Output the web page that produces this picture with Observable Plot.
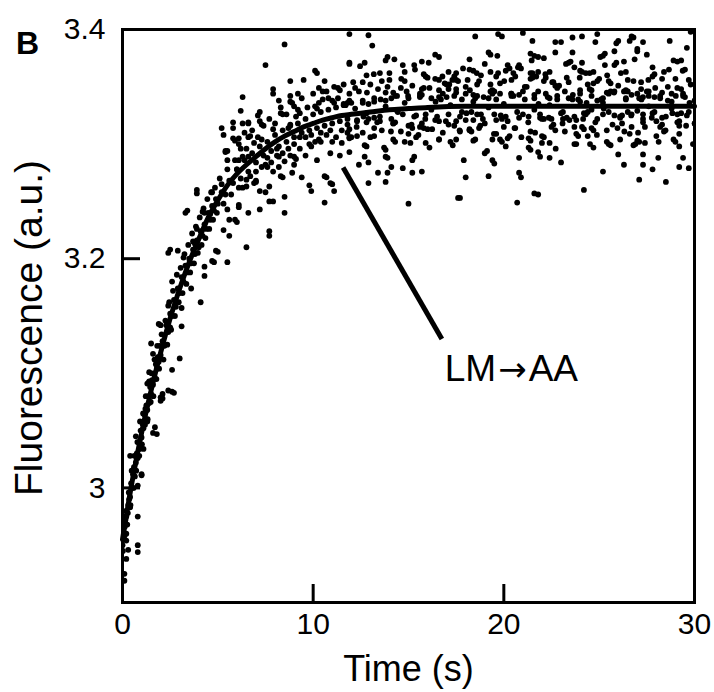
<!DOCTYPE html>
<html>
<head>
<meta charset="utf-8">
<script src="https://cdn.jsdelivr.net/npm/d3@7"></script>
<script src="https://cdn.jsdelivr.net/npm/@observablehq/plot@0.6"></script>
<style>
  html, body { margin: 0; padding: 0; background: white; }
</style>
</head>
<body>
<div id="chart"></div>
<script>
// Tick values and labels
const xTicks = [0, 10, 20, 30];
const yTicks = [3, 3.2, 3.4];
const yTickLabels = ["3", "3.2", "3.4"];

// Fitted curve: time (s) and fluorescence (a.u.)
const fitTime  = [0, 0.5, 1, 1.5, 2, 2.5, 3, 3.5, 4, 4.5, 5, 5.5, 6, 6.5, 7, 7.5, 8, 8.5, 9, 9.5, 10, 10.5, 11, 11.5, 12, 13, 14, 15, 16, 18, 20, 25, 30];
const fitValue = [2.955, 3.005, 3.048, 3.085, 3.118, 3.148, 3.174, 3.197, 3.217, 3.236, 3.251, 3.264, 3.274, 3.282, 3.289, 3.296, 3.302, 3.307, 3.311, 3.315, 3.318, 3.321, 3.323, 3.325, 3.326, 3.328, 3.330, 3.331, 3.332, 3.333, 3.333, 3.333, 3.333];

const pointsEarly = [
  [0.1,2.925],[0.1,2.919],[0.2,2.938],[0.3,2.946],[0.8,2.944],[0.8,2.950],[0.2,2.960],[0.2,2.954],[0.4,2.983],[0.8,2.975],
  [0.8,3.002],[1.0,3.011],[0.9,3.034],[0.4,3.028],[0.7,3.045],[1.8,3.047],[1.7,3.053],[1.3,3.058],[1.2,3.069],[2.0,3.076],
  [2.1,3.078],[2.6,3.084],[2.7,3.083],[2.1,3.082],[1.3,3.091],[1.4,3.093],[1.4,3.101],[2.6,3.103],[3.0,3.113],[1.6,3.117],
  [1.5,3.126],[1.9,3.143],[2.0,3.142],[2.5,3.140],[3.1,3.141],[2.4,3.159],[3.1,3.157],[4.1,3.162],[3.6,3.174],[2.6,3.180],
  [4.3,3.185],[4.3,3.193],[5.5,3.197],[4.7,3.198],[4.8,3.197],[3.2,3.201],[2.4,3.205],[2.5,3.208],[2.9,3.207],[4.9,3.207],
  [5.0,3.206],[3.7,3.215],[3.8,3.213],[5.6,3.220],[3.9,3.226],[5.9,3.234],[6.0,3.232],[4.6,3.239],[4.2,3.241],[4.3,3.240],
  [3.3,3.240],[3.4,3.242],[4.7,3.258],[3.9,3.260],[3.9,3.257],[5.2,3.265],[6.0,3.278],[6.1,3.286],[5.4,3.294],[5.5,3.294],
  [6.2,3.296],[6.1,3.305],[5.3,3.308],[5.8,3.314],[6.3,3.318],[2.4,3.085],[2.0,3.079],[1.6,3.048],[1.1,3.034],[1.0,3.012]
];
const pointsEarlyBand = [
  [0.02,2.945],[0.12,2.966],[0.18,2.980],[0.28,2.978],[0.33,2.996],[0.42,2.985],[0.48,3.015],[0.58,3.000],[0.62,3.028],[0.72,3.015],
  [0.78,3.040],[0.88,3.028],[0.92,3.058],[1.02,3.038],[1.08,3.065],[1.18,3.055],[1.22,3.080],[1.32,3.060],[1.38,3.092],[1.48,3.075],
  [1.52,3.100],[1.62,3.080],[1.68,3.112],[1.78,3.095],[1.82,3.124],[1.92,3.104],[2.05,3.134],[2.15,3.112],[2.25,3.146],[2.35,3.125],
  [2.45,3.162],[2.55,3.138],[2.65,3.172],[2.75,3.150],[2.85,3.186],[2.95,3.162],[3.05,3.192],[3.15,3.170],[3.25,3.204],[3.35,3.178],
  [3.45,3.212],[3.55,3.188],[3.65,3.222],[3.75,3.196],[3.85,3.228],[3.95,3.205],[4.05,3.236],[4.15,3.212],[4.25,3.244],[4.35,3.218],
  [4.45,3.252],[4.55,3.226],[4.65,3.258],[4.75,3.234],[4.85,3.262],[4.95,3.240],[5.1,3.270],[5.3,3.248],[5.5,3.278],[5.7,3.256],
  [5.9,3.286],[6.1,3.262]
];
const pointsRise = [
  [8.5,3.387],[7.5,3.369],[10.1,3.364],[10.2,3.362],[11.9,3.371],[7.9,3.348],[7.9,3.344],[8.8,3.355],[9.5,3.356],[10.6,3.355],
  [10.3,3.349],[10.7,3.346],[8.8,3.342],[8.8,3.337],[11.4,3.347],[11.3,3.349],[6.3,3.341],[7.2,3.328],[7.1,3.325],[6.2,3.329],
  [8.3,3.327],[8.4,3.326],[9.2,3.330],[9.0,3.333],[9.3,3.327],[10.2,3.331],[10.1,3.333],[10.5,3.339],[11.1,3.336],[11.0,3.338],
  [11.7,3.334],[11.6,3.335],[5.8,3.319],[5.2,3.314],[6.6,3.319],[7.3,3.317],[5.8,3.305],[5.9,3.303],[6.4,3.310],[6.6,3.306],
  [6.7,3.307],[6.9,3.301],[7.3,3.304],[7.9,3.313],[8.7,3.314],[8.8,3.317],[9.3,3.306],[9.8,3.300],[9.9,3.298],[10.3,3.304],
  [10.4,3.302],[11.0,3.302],[11.5,3.301],[11.9,3.306],[5.4,3.293],[5.5,3.286],[6.3,3.289],[6.6,3.289],[7.5,3.282],[7.6,3.280],
  [8.1,3.290],[8.2,3.289],[8.5,3.285],[9.0,3.289],[9.1,3.287],[9.0,3.282],[8.2,3.280],[8.3,3.272],[8.4,3.271],[8.9,3.275],
  [9.4,3.271],[10.6,3.272],[10.7,3.271],[9.8,3.264],[9.9,3.259],[10.9,3.266],[11.0,3.265],[11.1,3.259],[10.6,3.249],[6.5,3.269],
  [6.5,3.263],[6.9,3.266],[7.0,3.267],[7.2,3.259],[7.5,3.258],[7.7,3.263],[8.5,3.254],[8.5,3.240],[7.7,3.250],[7.9,3.250],
  [7.2,3.243],[6.6,3.240],[6.1,3.245],[6.1,3.247],[5.5,3.243],[5.6,3.234],[5.3,3.225],[7.7,3.224],[7.7,3.220],[6.5,3.210]
];
const pointsRiseCloud = [
  [6.1,3.300],[6.3,3.262],[6.5,3.296],[6.7,3.272],[6.8,3.312],[7.0,3.276],[7.1,3.306],[7.3,3.280],[7.4,3.316],[7.6,3.288],
  [7.7,3.322],[7.8,3.284],[8.0,3.318],[8.1,3.296],[8.3,3.332],[8.4,3.292],[8.6,3.326],[8.7,3.296],[8.9,3.336],[9.0,3.300],
  [9.1,3.324],[9.3,3.296],[9.4,3.340],[9.6,3.306],[9.7,3.332],[9.9,3.308],[10.0,3.344],[10.1,3.302],[10.3,3.336],[10.4,3.310],
  [10.5,3.346],[10.7,3.308],[10.8,3.340],[10.9,3.312],[11.1,3.350],[11.2,3.306],[11.3,3.340],[11.5,3.312],[11.6,3.352],[11.8,3.310],
  [11.9,3.344],[9.2,3.344],[8.2,3.338],[7.2,3.320],[6.6,3.318],[10.9,3.292],[9.6,3.290],[8.8,3.290],[7.9,3.276],[7.0,3.268],
  [11.4,3.290],[10.2,3.286]
];
const pointsMid = [
  [11.9,3.396],[12.9,3.395],[13.1,3.386],[11.9,3.370],[12.7,3.371],[12.8,3.360],[12.2,3.349],[12.6,3.354],[13.5,3.362],[13.8,3.373],
  [13.9,3.376],[13.6,3.355],[14.0,3.362],[13.8,3.345],[14.2,3.345],[14.1,3.340],[14.7,3.369],[14.8,3.363],[15.3,3.369],[15.7,3.372],
  [14.8,3.355],[14.9,3.346],[14.3,3.342],[15.8,3.361],[15.9,3.359],[16.4,3.357],[16.6,3.356],[16.4,3.378],[16.6,3.376],[15.8,3.349],
  [16.1,3.349],[16.9,3.353],[17.0,3.352],[17.1,3.363],[17.4,3.359],[17.3,3.356],[17.1,3.348],[17.5,3.348],[16.6,3.341],[16.7,3.339],
  [15.6,3.341],[15.7,3.343],[11.8,3.336],[11.9,3.338],[12.6,3.336],[12.9,3.335],[13.2,3.337],
  [11.8,3.317],[11.9,3.313],[12.3,3.321],[12.8,3.319],[13.2,3.314],[13.5,3.320],[14.2,3.318],[14.3,3.319],[15.0,3.316],[15.2,3.314],
  [15.6,3.315],[15.7,3.318],[16.0,3.313],[16.6,3.320],[17.1,3.317],[17.5,3.320],[11.9,3.305],[12.0,3.306],[12.3,3.307],[12.7,3.299],
  [12.8,3.298],[13.2,3.307],[14.2,3.304],[14.3,3.302],[14.6,3.311],[15.1,3.301],[15.4,3.306],[15.9,3.301],[16.1,3.297],[16.6,3.304],
  [17.2,3.302],[17.5,3.304],[13.8,3.295],[11.9,3.293],[15.3,3.289],[15.2,3.286],[13.8,3.289],[13.9,3.288],[12.7,3.289],[12.4,3.282],
  [12.9,3.284],[14.1,3.280],[14.7,3.279],[15.2,3.275],[15.7,3.276],[13.4,3.275],[13.9,3.275],[13.8,3.267],[12.9,3.266],[15.0,3.248],
  [17.6,3.253]
];
const pointsLate = [
  [18.5,3.394],[19.7,3.396],[19.9,3.394],[21.0,3.397],[21.5,3.390],[22.7,3.389],[23.0,3.389],[23.6,3.393],[19.2,3.380],[19.3,3.378],
  [18.2,3.374],[21.4,3.379],[21.6,3.377],[21.8,3.376],[22.1,3.375],[22.7,3.380],[23.6,3.380],[19.0,3.370],[18.2,3.365],[18.4,3.364],
  [17.5,3.362],[19.3,3.363],[20.2,3.369],[20.3,3.366],[20.1,3.364],[20.8,3.369],[20.9,3.366],[19.7,3.362],[20.5,3.362],[20.6,3.359],
  [21.4,3.362],[21.5,3.362],[21.8,3.363],[22.4,3.363],[23.4,3.371],[23.5,3.372],[23.7,3.367],[18.1,3.356],[18.7,3.355],[18.6,3.352],
  [19.6,3.359],[21.4,3.357],[21.5,3.358],[21.7,3.359],[22.1,3.355],[22.6,3.354],[22.7,3.351],[23.3,3.358],[17.5,3.345],[18.4,3.343],
  [18.5,3.340],[19.3,3.346],[19.4,3.344],[19.5,3.346],[20.4,3.344],[20.5,3.342],[21.6,3.343],[22.3,3.341],[22.4,3.340],[22.8,3.339],
  [23.2,3.346],[17.8,3.339],[19.6,3.339],[21.1,3.339],
  [18.0,3.321],[18.4,3.321],[18.8,3.326],[19.6,3.321],[19.9,3.322],[20.0,3.315],[20.8,3.323],[21.9,3.323],[22.1,3.322],[22.5,3.315],
  [22.7,3.312],[23.1,3.322],[23.3,3.323],[23.7,3.315],[18.2,3.313],[18.3,3.311],[17.7,3.311],[18.7,3.314],[18.5,3.304],[19.4,3.304],
  [19.8,3.304],[19.9,3.302],[20.3,3.307],[21.3,3.305],[21.4,3.303],[22.0,3.307],[22.1,3.306],[22.4,3.301],[20.1,3.298],[19.0,3.292],
  [19.4,3.286],[19.5,3.283],[20.8,3.288],[21.3,3.297],[21.4,3.295],[21.8,3.293],[21.9,3.289],[22.4,3.288],[17.9,3.286],[23.0,3.284],
  [23.7,3.300],[20.8,3.275],[20.9,3.271],[18.0,3.271],[19.2,3.272],[21.6,3.257],[21.8,3.256],[20.7,3.249],[17.7,3.253]
];
const pointsEnd = [
  [24.1,3.394],[24.9,3.396],[24.8,3.389],[26.0,3.390],[25.9,3.388],[26.7,3.394],[26.8,3.393],[26.6,3.390],[27.0,3.383],[27.0,3.381],
  [27.3,3.389],[27.5,3.378],[28.7,3.390],[29.6,3.384],[29.8,3.398],[25.2,3.377],[25.3,3.379],[25.8,3.381],[26.3,3.372],[24.1,3.371],
  [24.0,3.364],[24.1,3.363],[24.3,3.362],[25.3,3.369],[25.8,3.369],[25.9,3.371],[26.4,3.363],[27.8,3.367],[28.9,3.373],[29.1,3.372],
  [29.3,3.373],[29.5,3.365],[29.7,3.356],[28.4,3.363],[27.9,3.361],[24.5,3.362],[24.7,3.363],[24.9,3.355],[25.5,3.355],[25.6,3.353],
  [26.5,3.356],[27.2,3.354],[27.5,3.346],[27.6,3.346],[29.1,3.349],[29.3,3.348],[28.3,3.345],[24.5,3.348],[24.6,3.347],[25.4,3.345],
  [25.5,3.344],[26.3,3.346],[26.4,3.347],[26.7,3.343],[23.9,3.339],[24.0,3.337],[24.9,3.338],[25.1,3.339],[27.1,3.340],[27.3,3.341],
  [27.9,3.341],[28.6,3.338],[28.8,3.337],[29.5,3.341],
  [24.2,3.327],[24.4,3.328],[25.2,3.326],[26.1,3.323],[26.2,3.325],[26.5,3.328],[27.3,3.326],[27.8,3.327],[28.3,3.323],[29.3,3.327],
  [24.1,3.315],[24.6,3.314],[24.7,3.312],[25.7,3.317],[26.7,3.315],[27.3,3.319],[28.2,3.315],[28.3,3.317],[29.1,3.319],[29.2,3.320],
  [23.9,3.307],[24.4,3.307],[25.4,3.302],[25.5,3.300],[26.1,3.304],[27.0,3.303],[27.1,3.302],[28.0,3.307],[28.9,3.304],[29.0,3.302],
  [26.8,3.299],[26.9,3.300],[23.8,3.300],[24.7,3.297],[26.0,3.291],[27.3,3.291],[28.1,3.288],[29.2,3.298],[29.4,3.288],[26.3,3.282],
  [27.3,3.282],[27.8,3.278],[25.2,3.276],[27.1,3.269],[28.5,3.267],[29.2,3.280],[29.7,3.279],[24.2,3.260]
];
const pointsPlateauA = [
  [12.1,3.354],[12.28,3.315],[12.46,3.368],[12.64,3.324],[12.82,3.345],[13.0,3.306],[13.18,3.361],[13.36,3.319],[13.54,3.339],[13.72,3.297],
  [13.9,3.350],[14.08,3.311],[14.26,3.374],[14.44,3.328],[14.62,3.357],[14.8,3.302],[14.98,3.342],[15.16,3.317],[15.34,3.365],[15.52,3.308],
  [15.7,3.348],[15.88,3.322],[16.06,3.371],[16.24,3.313],[16.42,3.337],[16.6,3.304],[16.78,3.359],[16.96,3.320],[17.14,3.352],[17.32,3.299],
  [17.5,3.356],[17.68,3.312],[17.86,3.366],[18.04,3.327],[18.22,3.347],[18.4,3.303],[18.58,3.362],[18.76,3.316],[18.94,3.341],[19.12,3.294],
  [19.3,3.352],[19.48,3.309],[19.66,3.377],[19.84,3.325],[20.02,3.355],[20.2,3.305],[20.38,3.344],[20.56,3.314],[20.74,3.367],[20.92,3.306],
  [21.1,3.350],[21.28,3.319],[21.46,3.373],[21.64,3.310],[21.82,3.335],[22.0,3.301],[22.18,3.361],[22.36,3.323],[22.54,3.354],[22.72,3.296],
  [22.9,3.351],[23.08,3.318],[23.26,3.370],[23.44,3.321],[23.62,3.343],[23.8,3.309],[23.98,3.358],[24.16,3.322],[24.34,3.336],[24.52,3.300],
  [24.7,3.353],[24.88,3.308],[25.06,3.376],[25.24,3.331],[25.42,3.360],[25.6,3.299],[25.78,3.345],[25.96,3.314],[26.14,3.362],[26.32,3.311],
  [26.5,3.346],[26.68,3.325],[26.86,3.374],[27.04,3.310],[27.22,3.339],[27.4,3.301],[27.58,3.356],[27.76,3.323],[27.94,3.349],[28.12,3.302],
  [28.3,3.357],[28.48,3.312],[28.66,3.365],[28.84,3.327],[29.02,3.342],[29.2,3.309],[29.38,3.364],[29.56,3.316],[29.74,3.336],[29.92,3.300]
];
const pointsPlateauB = [
  [12.2,3.331],[12.4,3.346],[12.6,3.310],[12.8,3.327],[13.0,3.352],[13.2,3.323],[13.4,3.348],[13.6,3.312],[13.8,3.333],[14.0,3.356],
  [14.2,3.318],[14.4,3.329],[14.6,3.349],[14.8,3.336],[15.0,3.309],[15.2,3.351],[15.4,3.325],[15.6,3.344],[15.8,3.314],[16.0,3.358],
  [16.2,3.330],[16.4,3.321],[16.6,3.347],[16.8,3.310],[17.0,3.341],[17.2,3.334],[17.4,3.316],[17.6,3.355],[17.8,3.328],[18.0,3.350],
  [18.2,3.312],[18.4,3.337],[18.6,3.326],[18.8,3.360],[19.0,3.318],[19.2,3.332],[19.4,3.347],[19.6,3.309],[19.8,3.353],[20.0,3.335],
  [20.2,3.320],[20.4,3.356],[20.6,3.314],[20.8,3.343],[21.0,3.326],[21.2,3.350],[21.4,3.311],[21.6,3.330],[21.8,3.346],[22.0,3.322],
  [22.2,3.358],[22.4,3.334],[22.6,3.317],[22.8,3.349],[23.0,3.327],[23.2,3.311],[23.4,3.354],[23.6,3.339],[23.8,3.321],[24.0,3.347],
  [24.2,3.313],[24.4,3.352],[24.6,3.330],[24.8,3.319],[25.0,3.357],[25.2,3.336],[25.4,3.312],[25.6,3.346],[25.8,3.325],[26.0,3.351],
  [26.2,3.318],[26.4,3.339],[26.6,3.309],[26.8,3.355],[27.0,3.329],[27.2,3.348],[27.4,3.315],[27.6,3.333],[27.8,3.359],[28.0,3.320],
  [28.2,3.342],[28.4,3.311],[28.6,3.350],[28.8,3.331],[29.0,3.357],[29.2,3.316],[29.4,3.344],[29.6,3.325],[29.8,3.352],[30.0,3.318]
];
// Dense band of points lying on the fitted curve
const pointsBand = [
  [0.00,2.950],[0.05,2.962],[0.10,2.958],[0.15,2.972],[0.20,2.975],[0.25,2.968],[0.30,2.985],[0.35,2.990],[0.40,2.992],[0.45,3.004],
  [0.50,3.000],[0.55,3.012],[0.60,3.018],[0.65,3.010],[0.70,3.022],[0.75,3.030],[0.80,3.026],[0.85,3.040],[0.90,3.038],[0.95,3.050],
  [1.00,3.044],[1.05,3.056],[1.10,3.052],[1.15,3.064],[1.20,3.060],[1.25,3.072],[1.30,3.068],[1.35,3.080],[1.40,3.074],[1.45,3.088],
  [1.50,3.082],[1.55,3.094],[1.60,3.090],[1.65,3.100],[1.70,3.096],[1.75,3.108],[1.80,3.104],[1.85,3.114],[1.90,3.110],[1.95,3.124],
  [2.00,3.116],[2.10,3.128],[2.20,3.124],[2.30,3.142],[2.40,3.136],[2.50,3.152],[2.60,3.150],[2.70,3.164],[2.80,3.158],[2.90,3.174],
  [3.00,3.170],[3.10,3.184],[3.20,3.180],[3.30,3.194],[3.40,3.188],[3.50,3.200],[3.60,3.196],[3.70,3.208],[3.80,3.204],[3.90,3.216],
  [4.00,3.210],[4.10,3.224],[4.20,3.220],[4.30,3.230],[4.40,3.226],[4.50,3.240],[4.60,3.234],[4.70,3.246],[4.80,3.242],[4.90,3.252],
  [5.00,3.248],[5.20,3.258],[5.40,3.256],[5.60,3.268],[5.80,3.266],[6.00,3.278],
  [6.2,3.270],[6.4,3.286],[6.6,3.276],[6.8,3.292],[7.0,3.284],[7.2,3.298],[7.4,3.290],[7.6,3.302],[7.8,3.294],[8.0,3.308],
  [8.2,3.298],[8.4,3.312],[8.6,3.302],[8.8,3.316],[9.0,3.306],[9.2,3.318],[9.4,3.310],[9.6,3.322],[9.8,3.312],[10.0,3.326],
  [10.2,3.314],[10.4,3.328],[10.6,3.316],[10.8,3.330],[11.0,3.318],[11.2,3.332],[11.4,3.320],[11.6,3.334],[11.8,3.322],[12.0,3.336],
  [12.3,3.320],[12.6,3.338],[12.9,3.322],[13.2,3.340],[13.5,3.324],[13.8,3.338],[14.1,3.322],[14.4,3.342],[14.7,3.326],[15.0,3.340],
  [15.3,3.324],[15.6,3.342],[15.9,3.326],[16.2,3.340],[16.5,3.324],[16.8,3.344],[17.1,3.326],[17.4,3.342],[17.7,3.324],[18.0,3.344],
  [18.3,3.328],[18.6,3.342],[18.9,3.322],[19.2,3.340],[19.5,3.326],[19.8,3.344],[20.1,3.324],[20.4,3.342],[20.7,3.328],[21.0,3.346],
  [21.3,3.324],[21.6,3.340],[21.9,3.326],[22.2,3.344],[22.5,3.322],[22.8,3.342],[23.1,3.328],[23.4,3.340],[23.7,3.324],[24.0,3.344],
  [24.3,3.326],[24.6,3.342],[24.9,3.322],[25.2,3.340],[25.5,3.328],[25.8,3.346],[26.1,3.324],[26.4,3.340],[26.7,3.326],[27.0,3.344],
  [27.3,3.322],[27.6,3.342],[27.9,3.328],[28.2,3.340],[28.5,3.324],[28.8,3.344],[29.1,3.326],[29.4,3.342],[29.7,3.328],[30.0,3.338]
];

// Annotation: leader line start/end (time, fluorescence) and label position
const annotationLine = [{t1: 11.57, f1: 3.2795, t2: 16.75, f2: 3.130}];
const annotationText = [{t: 16.9, f: 3.104, label: "LM\u2192AA"}];

const panelLetter = "B";
const xLabel = "Time (s)";
const yLabel = "Fluorescence (a.u.)";

const scatter = [...pointsEarly, ...pointsEarlyBand, ...pointsRise, ...pointsRiseCloud, ...pointsMid, ...pointsLate, ...pointsEnd, ...pointsPlateauA, ...pointsPlateauB, ...pointsBand];
const fit = fitTime.map((t, i) => ({t, f: fitValue[i]}));

const W = 714, H = 692;
const mT = 29, mB = 90, mL = 122, mR = 20;
const frameW = W - mL - mR, frameH = H - mT - mB;
const tickLen = 18;
const font = "'Liberation Sans', Arial, Helvetica, sans-serif";

const chart = Plot.plot({
  width: W,
  height: H,
  marginTop: mT,
  marginBottom: mB,
  marginLeft: mL,
  marginRight: mR,
  style: {fontFamily: font, background: "white", color: "black", overflow: "visible"},
  x: {domain: [0, 30], label: null},
  y: {domain: [2.9, 3.4], label: null},
  marks: [
    Plot.dot(scatter, {x: d => d[0], y: d => d[1], r: 2.9, fill: "black", stroke: "none", clip: true}),
    Plot.line(fit, {x: "t", y: "f", stroke: "black", strokeWidth: 5, curve: "monotone-x"}),
    Plot.link(annotationLine, {x1: "t1", y1: "f1", x2: "t2", y2: "f2", stroke: "black", strokeWidth: 5}),
    Plot.text(annotationText, {x: "t", y: "f", text: "label", textAnchor: "start", fontSize: 37, fill: "black"}),
    Plot.tickX(xTicks, {x: d => d, insetTop: frameH - tickLen, stroke: "black", strokeWidth: 3}),
    Plot.tickY(yTicks, {y: d => d, insetRight: frameW - tickLen, stroke: "black", strokeWidth: 3}),
    Plot.frame({stroke: "black", strokeWidth: 3}),
    Plot.axisX(xTicks, {tickSize: 0, tickPadding: 10, fontSize: 30, label: null}),
    Plot.axisY(yTicks, {tickSize: 0, tickPadding: 17, fontSize: 30, label: null, tickFormat: d => yTickLabels[yTicks.indexOf(d)]}),
    Plot.text([xLabel], {text: d => d, frameAnchor: "bottom", dy: 67, fontSize: 36, lineAnchor: "middle", textAnchor: "middle"}),
    Plot.text([yLabel], {text: d => d, frameAnchor: "left", rotate: -90, dx: -93, dy: 12, fontSize: 39, lineAnchor: "middle", textAnchor: "middle"}),
    Plot.text([panelLetter], {text: d => d, frameAnchor: "top-left", dx: -95, dy: 14, fontSize: 32, fontWeight: "bold", lineAnchor: "middle", textAnchor: "middle"})
  ]
});

// Render the arrow of the annotation with a font whose arrow has a long shaft
d3.select(chart).selectAll("text").filter(function() { return this.textContent.includes("\u2192"); }).each(function() {
  const parts = this.textContent.split("\u2192");
  const el = d3.select(this);
  el.text(null);
  el.append("tspan").text(parts[0]);
  el.append("tspan").attr("font-family", "'DejaVu Sans'").attr("font-size", 34).attr("dx", 2).text("\u2192");
  el.append("tspan").attr("dx", 2).text(parts[1]);
});

document.getElementById("chart").appendChild(chart);
</script>
</body>
</html>
